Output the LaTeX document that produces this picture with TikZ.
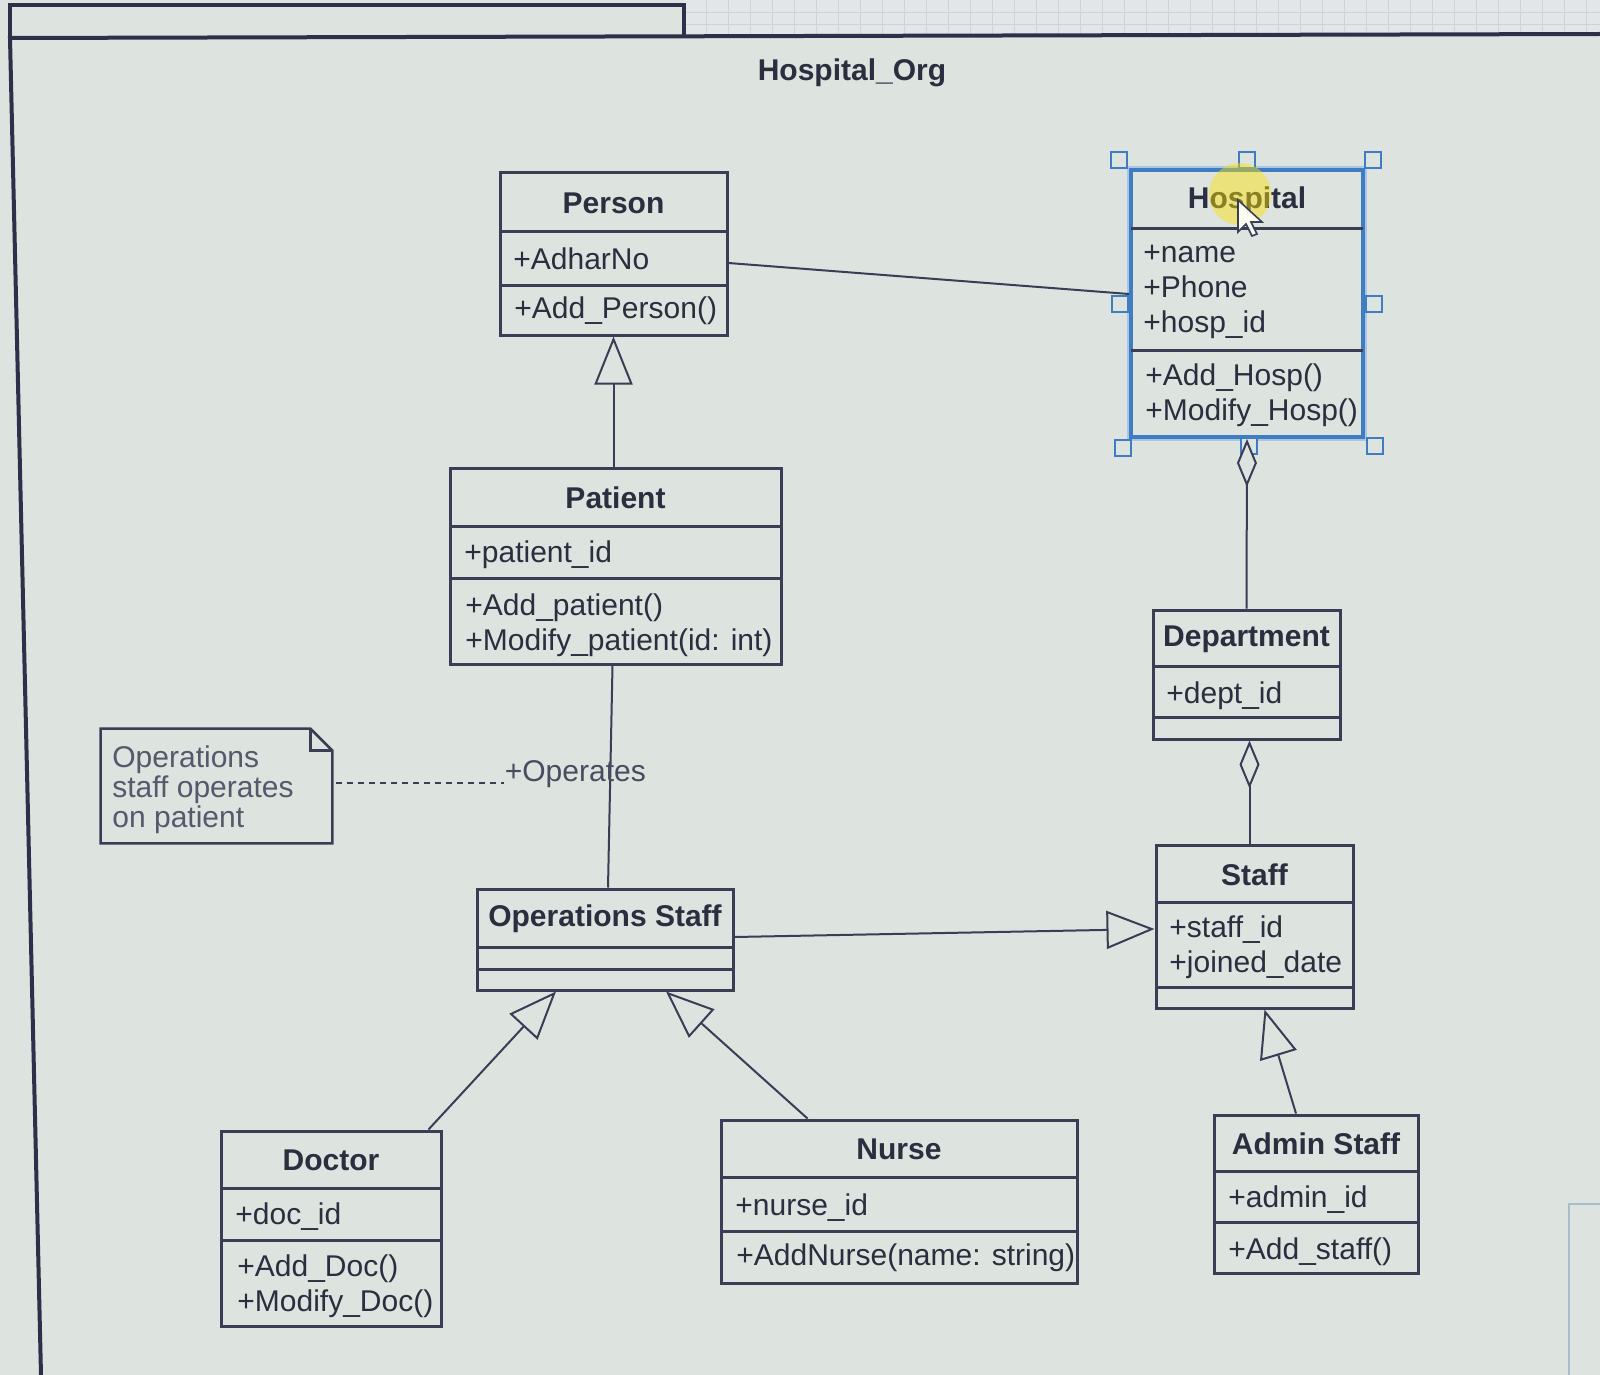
\documentclass[tikz,border=0pt]{standalone}
\usepackage{fontspec}
\setmainfont{Liberation Sans}
\usetikzlibrary{arrows.meta,calc,fit}
\definecolor{bgc}{HTML}{DDE3DF}
\definecolor{topc}{HTML}{E2E6E9}
\definecolor{gridc}{HTML}{CDD3D9}
\definecolor{linec}{HTML}{3A3E55}
\definecolor{framec}{HTML}{2D3048}
\definecolor{textc}{HTML}{2A2E3E}
\definecolor{notec}{HTML}{55596B}
\definecolor{bluec}{HTML}{3F7CC0}
\definecolor{glowc}{HTML}{A8C7E6}
\definecolor{faintc}{HTML}{A9BCCB}
\tikzset{
  classtitle/.style={font=\fontsize{15}{17.5}\selectfont\bfseries, text=textc, inner sep=0pt},
  member/.style={font=\fontsize{15}{17.5}\selectfont, text=textc, inner sep=0pt, anchor=west, align=left, yshift=-2pt},
  boxline/.style={draw=linec, line width=1.5pt},
  conn/.style={draw=linec, line width=1pt},
  gen/.style={conn, -{Triangle[open, length=24pt, width=19pt, fill=bgc]}},
  agg/.style={conn, -{Diamond[open, length=24pt, width=10pt, fill=bgc]}},
  handle/.style={draw=bluec, line width=1pt, fill=bgc, minimum size=8pt, inner sep=0pt},
  framel/.style={draw=framec, line width=2pt},
}
% name, x1, y1, x2, y2, divider1, divider2, title, box options
\newcommand\umlclass[9]{%
  \node[fit={(#2,#3) (#4,#5)}, inner sep=0pt, fill=bgc, boxline, #9] (#1) {};
  \draw[boxline] (#2,#6) -- (#4,#6) (#2,#7) -- (#4,#7);
  \node[classtitle] (#1-title) at ({(#2+#4)/2},{(#3+#6)/2+1}) {#8};
}
\begin{document}
\begin{tikzpicture}[x=0.5pt,y=-0.5pt]
\useasboundingbox (0,0) rectangle (1600,1375);
\fill[bgc] (0,0) rectangle (1600,1375);
% grid area top right
\fill[topc] (684,0) -- (1600,0) -- (1600,34) -- (684,38) -- cycle;
\foreach \gx in {706,728,...,1600} \draw[gridc, line width=0.4pt] (\gx,0) -- (\gx,36);
\foreach \gy in {12,24} \draw[gridc, line width=0.4pt] (684,\gy) -- (1600,\gy);
% package frame
\draw[framel] (10,38) -- (10,5) -- (684,5) -- (684,38);
\draw[framel] (1600,34) -- (10,38) -- (41,1375);
\node[classtitle] (pkgtitle) at (852,73) {Hospital\_Org};
% faint rectangle bottom right
\draw[faintc, line width=1pt] (1569,1375) -- (1569,1204) -- (1600,1204);

% classes
\umlclass{person}{500}{173}{727}{335}{232}{285}{Person}{}
\node[member] (person-a) at (513,255) {+AdharNo};
\node[member] (person-o) at (514,307) {+Add\_Person()};

\draw[glowc, line width=4pt] (1131,170) rectangle (1363,437);
\umlclass{hospital}{1131}{170}{1363}{437}{229}{350}{Hospital}{draw=bluec, line width=2pt}
\node[member] (hospital-a) at (1143,288) {+name\\+Phone\\+hosp\_id};
\node[member] (hospital-o) at (1145,391) {+Add\_Hosp()\\+Modify\_Hosp()};

\umlclass{patient}{450}{468}{781}{664}{526}{578}{Patient}{}
\node[member] (patient-a) at (464,551) {+patient\_id};
\node[member] (patient-o) at (465,621) {+Add\_patient()\\+Modify\_patient(id: int)};

\umlclass{department}{1153}{610}{1340}{739}{666}{717}{Department}{}
\node[member] (department-a) at (1166,692) {+dept\_id};

\umlclass{staff}{1156}{845}{1353}{1008}{902}{987}{Staff}{}
\node[member] (staff-a) at (1169,943.5) {+staff\_id\\+joined\_date};

\umlclass{ops}{477}{889}{733}{990}{947}{969}{Operations Staff}{}

\umlclass{doctor}{221}{1131}{441}{1326}{1188}{1240}{Doctor}{}
\node[member] (doctor-a) at (235,1213) {+doc\_id};
\node[member] (doctor-o) at (237,1282) {+Add\_Doc()\\+Modify\_Doc()};

\umlclass{nurse}{721}{1120}{1077}{1283}{1177}{1231}{Nurse}{}
\node[member] (nurse-a) at (735,1204) {+nurse\_id};
\node[member] (nurse-o) at (736,1254) {+AddNurse(name: string)};

\umlclass{admin}{1214}{1115}{1418}{1273}{1171}{1222}{Admin Staff}{}
\node[member] (admin-a) at (1228,1196) {+admin\_id};
\node[member] (admin-o) at (1228,1248) {+Add\_staff()};

% note
\node[fit={(101,729) (332,843)}, inner sep=0pt] (note) {};
\draw[boxline, line width=1.3pt, fill=bgc] (note.north west) -- ($(note.north east)+(-22,0)$) -- ($(note.north east)+(0,22)$) -- (note.south east) -- (note.south west) -- cycle;
\draw[boxline, line width=1.3pt] ($(note.north east)+(-22,0)$) -- ($(note.north east)+(-22,22)$) -- ($(note.north east)+(0,22)$);
\node[member, text=notec, font=\fontsize{15}{15}\selectfont] (note-t) at (112,786) {Operations\\staff operates\\on patient};

% selection handles
\foreach \hx/\hy [count=\i] in {1119/160,1247/160,1373/160,1120/304,1374/304,1123/448,1249/446,1375/446}
  \node[handle] (h\i) at (\hx,\hy) {};

% connectors
\draw[conn] ($(person.east)+(0,9)$) -- ($(hospital.west)+(0,-9.5)$);
\draw[gen] ($(patient.north)+(-2,0)$) -- (person.south);
\draw[agg] (department.north) -- (hospital.south);
\draw[agg] ($(staff.north)+(-5,0)$) -- ($(department.south)+(3,0)$);
\draw[conn] ($(ops.north)+(3,0)$) -- node[pos=0.52, xshift=-17.5pt, yshift=1pt, member, anchor=center, text=notec!70!textc] (oplabel) {+Operates} ($(patient.south)+(-3,0)$);
\coordinate (dashstart) at ($(note.east)+(4,-3)$);
\draw[conn, dash pattern=on 3pt off 2.5pt] (dashstart) -- (dashstart -| oplabel.west);
\draw[gen] ($(ops.east)+(0,-2.5)$) -- ($(staff.west)+(0,2.5)$);
\draw[gen] ($(doctor.north east)+(-14,0)$) -- ($(ops.south)+(-49,0)$);
\draw[gen] ($(nurse.north west)+(88,0)$) -- ($(ops.south)+(61,0)$);
\draw[gen] ($(admin.north)+(-20,0)$) -- ($(staff.south)+(10,0)$);

% mouse highlight and cursor
\fill[yellow!85!orange, opacity=0.45] (1240,194) circle (15.5pt);
\draw[linec, line width=0.8pt, fill=white, fill opacity=0.9] (1238,200) -- (1238,232) -- (1246,224) -- (1252,236) -- (1257,234) -- (1251,222) -- (1262,222) -- cycle;
\end{tikzpicture}
\end{document}
